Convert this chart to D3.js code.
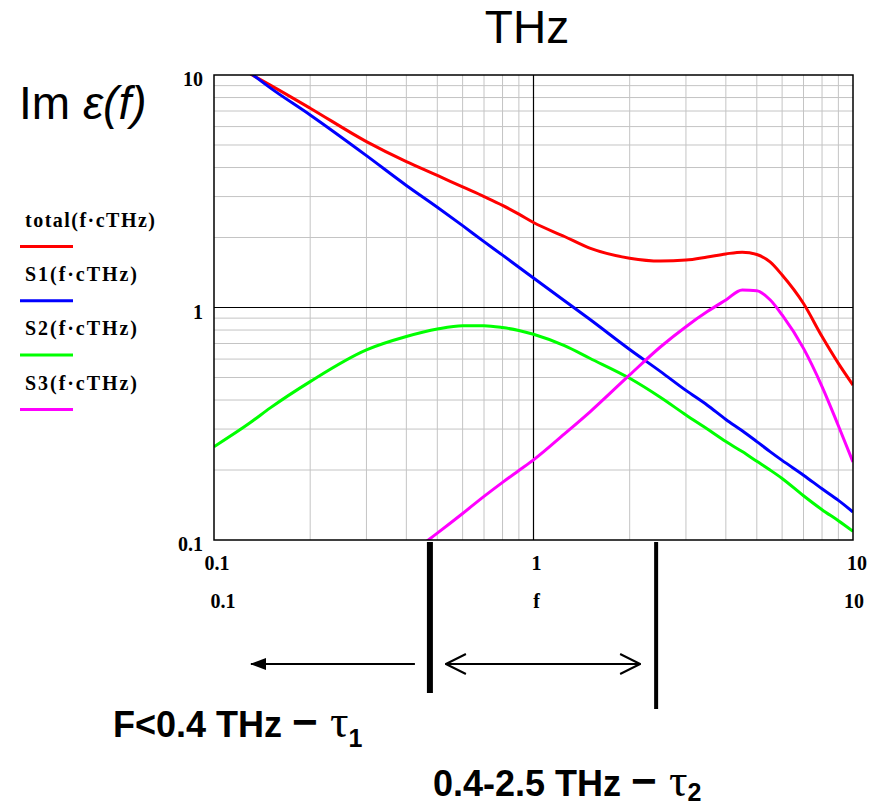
<!DOCTYPE html>
<html>
<head>
<meta charset="utf-8">
<script src="https://cdn.jsdelivr.net/npm/d3@7"></script>
<style>
  body { margin: 0; background: #fff; }
  svg { display: block; }
</style>
</head>
<body>
<div id="chart"></div>
<script>
const freq = [0.1, 0.13, 0.15, 0.2, 0.3, 0.4, 0.5, 0.6, 0.7, 0.8, 0.9, 1,
  1.25, 1.5, 2, 2.5, 3, 3.5, 4, 4.5, 5, 5.5, 6, 7, 8, 9, 10];

// Im eps for each term, null where the curve is off the plot.
const total = [null, 10.1, 9.05, 7.2, 5.17, 4.24, 3.7, 3.3, 3.0, 2.75, 2.52, 2.32,
  2.02, 1.8, 1.63, 1.585, 1.6, 1.65, 1.7, 1.73, 1.69, 1.57, 1.38, 1.04, 0.75, 0.575, 0.464];
const s1 = [null, 10.2, 8.8, 6.73, 4.5, 3.35, 2.7, 2.25, 1.92, 1.68, 1.49, 1.34,
  1.07, 0.89, 0.66, 0.53, 0.44, 0.38, 0.33, 0.295, 0.265, 0.24, 0.22, 0.19, 0.166, 0.148, 0.132];
const s2 = [0.252, 0.32, 0.37, 0.48, 0.657, 0.75, 0.808, 0.835, 0.835, 0.82, 0.797, 0.767,
  0.685, 0.605, 0.496, 0.41, 0.345, 0.3, 0.265, 0.24, 0.218, 0.2, 0.184, 0.155, 0.135, 0.121, 0.109];
const s3 = [null, null, null, null, null, 0.085, 0.107, 0.13, 0.154, 0.177, 0.199, 0.221,
  0.286, 0.355, 0.513, 0.678, 0.827, 0.96, 1.077, 1.19, 1.18, 1.08, 0.929, 0.667, 0.457, 0.31, 0.2165];

const seriesNames = ["total(f·cTHz)", "S1(f·cTHz)", "S2(f·cTHz)", "S3(f·cTHz)"];
const seriesValues = [total, s1, s2, s3];
const seriesColors = ["#ff0000", "#0000ff", "#00ff00", "#ff00ff"];

const xTicks = [0.1, 1, 10];
const yTicks = [0.1, 1, 10];

// Region boundaries drawn under the plot (THz).
const markers = [0.474, 2.42];

function logPlot(chartLocation) {
  const W = 881, H = 806;
  const margin = { left: 214, top: 75, right: 28, bottom: 266 };
  const width = W - margin.left - margin.right;
  const height = H - margin.top - margin.bottom;

  const svg = d3.select(chartLocation).append("svg")
    .attr("width", W)
    .attr("height", H);

  const x = d3.scaleLog().domain([0.1, 10]).range([margin.left, margin.left + width]);
  const y = d3.scaleLog().domain([0.1, 10]).range([margin.top + height, margin.top]);

  // Minor grid, 2..9 in each decade
  const minor = [];
  [0.1, 1].forEach(d => { for (let k = 2; k <= 9; k++) minor.push(d * k); });

  svg.append("g").selectAll("line")
    .data(minor).enter().append("line")
    .attr("x1", d => x(d)).attr("x2", d => x(d))
    .attr("y1", margin.top).attr("y2", margin.top + height)
    .attr("stroke", "#c4c4c4").attr("stroke-width", 1);

  svg.append("g").selectAll("line")
    .data(minor).enter().append("line")
    .attr("y1", d => y(d)).attr("y2", d => y(d))
    .attr("x1", margin.left).attr("x2", margin.left + width)
    .attr("stroke", "#c4c4c4").attr("stroke-width", 1);

  // Decade lines at 1
  svg.append("line")
    .attr("x1", x(1)).attr("x2", x(1))
    .attr("y1", margin.top).attr("y2", margin.top + height)
    .attr("stroke", "#000").attr("stroke-width", 1.2);
  svg.append("line")
    .attr("y1", y(1)).attr("y2", y(1))
    .attr("x1", margin.left).attr("x2", margin.left + width)
    .attr("stroke", "#000").attr("stroke-width", 1.2);

  // Curves, clipped to plot area
  svg.append("clipPath").attr("id", "clip")
    .append("rect")
    .attr("x", margin.left).attr("y", margin.top)
    .attr("width", width).attr("height", height);

  const line = d3.line()
    .defined(d => d[1] != null)
    .x(d => x(d[0]))
    .y(d => y(d[1]))
    .curve(d3.curveMonotoneX);

  svg.append("g").attr("clip-path", "url(#clip)")
    .selectAll("path")
    .data(seriesValues).enter().append("path")
    .attr("d", vals => line(freq.map((f, i) => [f, vals[i]])))
    .attr("fill", "none")
    .attr("stroke", (d, i) => seriesColors[i])
    .attr("stroke-width", 3);

  // Frame
  svg.append("rect")
    .attr("x", margin.left).attr("y", margin.top)
    .attr("width", width).attr("height", height)
    .attr("fill", "none").attr("stroke", "#000").attr("stroke-width", 1.5);

  const serif = "'Liberation Serif', 'Times New Roman', serif";

  // Y tick labels
  svg.append("g").selectAll("text")
    .data(yTicks).enter().append("text")
    .attr("x", 203).attr("y", d => y(d) + 11)
    .attr("text-anchor", "end")
    .style("font-family", serif).style("font-weight", "bold").style("font-size", "20px")
    .text(d => d3.format("~g")(d));

  // X tick labels, then the range row Mathcad puts under them
  svg.append("g").selectAll("text")
    .data(xTicks).enter().append("text")
    .attr("x", (d, i) => x(d) + [3, 3, 4][i]).attr("y", 570)
    .attr("text-anchor", "middle")
    .style("font-family", serif).style("font-weight", "bold").style("font-size", "20px")
    .text(d => d3.format("~g")(d));

  const rangeRow = ["0.1", "f", "10"];
  svg.append("g").selectAll("text")
    .data(rangeRow).enter().append("text")
    .attr("x", (d, i) => x(xTicks[i]) + [9, 3, 1][i]).attr("y", 608)
    .attr("text-anchor", "middle")
    .style("font-family", serif).style("font-weight", "bold").style("font-size", "20px")
    .text(d => d);

  // Legend on the left
  const legend = svg.append("g").selectAll("g")
    .data(seriesNames).enter().append("g")
    .attr("transform", (d, i) => `translate(0, ${i * 54.3})`);
  legend.append("text")
    .attr("x", 25).attr("y", 226.7)
    .attr("textLength", (d, i) => i === 0 ? 130 : 112)
    .attr("lengthAdjust", "spacing")
    .style("font-family", serif).style("font-weight", "bold").style("font-size", "20px")
    .text(d => d);
  legend.append("line")
    .attr("x1", 20).attr("x2", 73)
    .attr("y1", 246.5).attr("y2", 246.5)
    .attr("stroke", (d, i) => seriesColors[i]).attr("stroke-width", 3);

  // Titles
  const sans = "'Liberation Sans', Arial, sans-serif";
  const yTitle = svg.append("text")
    .attr("x", 19).attr("y", 119)
    .style("font-family", sans).style("font-size", "46px");
  yTitle.append("tspan").text("Im ");
  yTitle.append("tspan").style("font-style", "italic").text("ε(f)");

  svg.append("text")
    .attr("x", 527).attr("y", 43)
    .attr("text-anchor", "middle")
    .style("font-family", sans).style("font-size", "46px")
    .text("THz");

  // Region markers below the axis
  svg.append("line")
    .attr("x1", x(markers[0])).attr("x2", x(markers[0]))
    .attr("y1", 542).attr("y2", 693)
    .attr("stroke", "#000").attr("stroke-width", 6);
  svg.append("line")
    .attr("x1", x(markers[1])).attr("x2", x(markers[1]))
    .attr("y1", 542).attr("y2", 709)
    .attr("stroke", "#000").attr("stroke-width", 4);

  // Arrow heads point along +x, so marker-end points in the line's direction
  const defs = svg.append("defs");
  defs.append("marker").attr("id", "solidHead")
    .attr("viewBox", "0 0 16 12").attr("refX", 15).attr("refY", 6)
    .attr("markerWidth", 16).attr("markerHeight", 12)
    .attr("markerUnits", "userSpaceOnUse").attr("orient", "auto-start-reverse")
    .append("path").attr("d", "M0,0 L16,6 L0,12 Z").attr("fill", "#000");
  defs.append("marker").attr("id", "openHead")
    .attr("viewBox", "0 0 22 22").attr("refX", 21).attr("refY", 11)
    .attr("markerWidth", 22).attr("markerHeight", 22)
    .attr("markerUnits", "userSpaceOnUse").attr("orient", "auto-start-reverse")
    .append("path").attr("d", "M1,1 L21,11 L1,21")
    .attr("fill", "none").attr("stroke", "#000").attr("stroke-width", 2);

  const arrowY = 664;
  svg.append("line")
    .attr("x1", x(markers[0]) - 15).attr("x2", 251)
    .attr("y1", arrowY).attr("y2", arrowY)
    .attr("stroke", "#000").attr("stroke-width", 2)
    .attr("marker-end", "url(#solidHead)");
  svg.append("line")
    .attr("x1", x(markers[0]) + 16).attr("x2", x(markers[1]) - 16)
    .attr("y1", arrowY).attr("y2", arrowY)
    .attr("stroke", "#000").attr("stroke-width", 2)
    .attr("marker-start", "url(#openHead)")
    .attr("marker-end", "url(#openHead)");

  // Region captions
  const captions = [
    { x: 113, y: 737, text: "F<0.4 THz ", sub: "1", dy: 10 },
    { x: 433, y: 796, text: "0.4-2.5 THz ", sub: "2", dy: 5 }
  ];
  captions.forEach(c => {
    const t = svg.append("text")
      .attr("x", c.x).attr("y", c.y)
      .style("font-family", sans).style("font-weight", "bold").style("font-size", "36px");
    t.append("tspan").text(c.text);
    t.append("tspan").style("font-size", "44px").text("\u2212 ");
    t.append("tspan").style("font-weight", "normal").style("font-family", serif)
      .style("font-size", "46px").text("τ");
    t.append("tspan").attr("dy", c.dy).style("font-size", "25px").text(c.sub);
  });
}

logPlot("#chart");
</script>
</body>
</html>
